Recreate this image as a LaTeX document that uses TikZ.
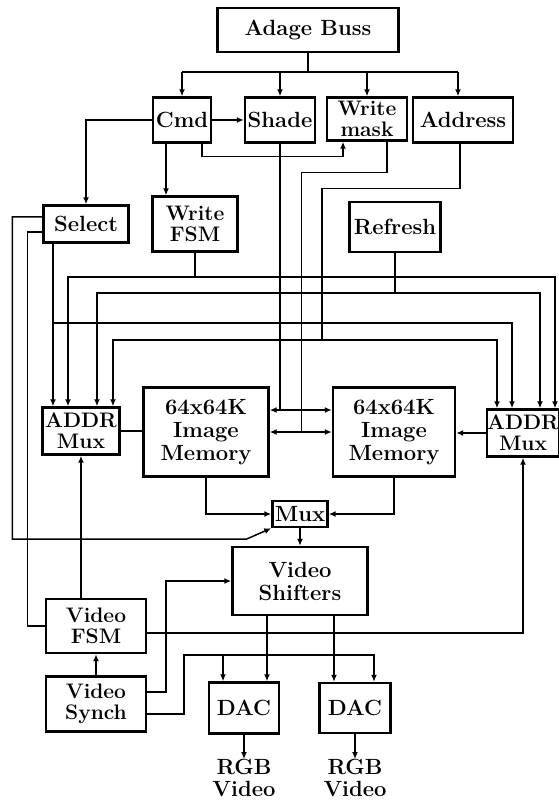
\documentclass[tikz,border=0pt]{standalone}
\usepackage{tikz}
\usetikzlibrary{arrows.meta,positioning,calc}
\tikzset{
  blk/.style={draw,line width=2.4pt,inner sep=0pt,align=center,font=\bfseries\fontsize{22}{23}\selectfont},
  tight/.style={font=\bfseries\fontsize{21}{21}\selectfont},
  lbl/.style={inner sep=0pt,align=center,font=\bfseries\fontsize{22}{22}\selectfont},
  wire/.style={draw,line width=1.5pt},
  flow/.style={wire,-{Latex[length=7pt,width=6pt]}},
  biflow/.style={wire,{Latex[length=7pt,width=6pt]}-{Latex[length=7pt,width=6pt]}}
}
\begin{document}
\begin{tikzpicture}[x=1pt,y=-1pt]
      \useasboundingbox (0,0) rectangle (558,802);
      \node[blk,minimum width=181pt,minimum height=44pt] (buss) at (308,30) {Adage Buss};
      \node[blk,minimum width=58pt,minimum height=45pt] (cmd) at (182,120) {Cmd};
      \node[blk,minimum width=70pt,minimum height=45pt] (shade) at (280,120) {Shade};
      \node[blk,tight,minimum width=80pt,minimum height=43pt] (wmask) at (367,119) {Write\\mask};
      \node[blk,minimum width=100pt,minimum height=45pt] (addr) at (463,120) {Address};
      \node[blk,minimum width=85pt,minimum height=37pt] (select) at (86,224) {Select};
      \node[blk,tight,minimum width=85pt,minimum height=55pt] (wfsm) at (195,224) {Write\\FSM};
      \node[blk,minimum width=91pt,minimum height=50pt] (refresh) at (395,227) {Refresh};
      \node[blk,tight,minimum width=77pt,minimum height=47pt] (lmux) at (81,431) {ADDR\\Mux};
      \node[blk,minimum width=125pt,minimum height=89pt] (lmem) at (206,432) {64x64K\\Image\\Memory};
      \node[blk,minimum width=122pt,minimum height=89pt] (rmem) at (394,432) {64x64K\\Image\\Memory};
      \node[blk,tight,minimum width=72pt,minimum height=47pt] (rmux) at (523,433) {ADDR\\Mux};
      \node[blk,minimum width=55pt,minimum height=26pt] (mux) at (300,514) {Mux};
      \node[blk,minimum width=135pt,minimum height=68pt] (vshift) at (300,581) {Video\\Shifters};
      \node[blk,tight,minimum width=100pt,minimum height=54pt] (vfsm) at (96,626) {Video\\FSM};
      \node[blk,tight,minimum width=100pt,minimum height=55pt] (vsynch) at (96,704) {Video\\Synch};
      \node[blk,minimum width=70pt,minimum height=51pt] (ldac) at (244,708) {DAC};
      \node[blk,minimum width=71pt,minimum height=50pt] (rdac) at (355,708) {DAC};
      \node[lbl] (lrgb) at (244,778) {RGB\\Video};
      \node[lbl] (rrgb) at (355,778) {RGB\\Video};
      \coordinate (busy) at (0,72);
      \coordinate (wfy) at (0,277);
      \coordinate (rfy) at (0,293);
      \coordinate (sly) at (0,323);
      \coordinate (syy) at (0,655);
      \coordinate (la1) at ([xshift=-28pt]lmux.north);
      \coordinate (la2) at ([xshift=-13pt]lmux.north);
      \coordinate (la3) at ([xshift=16pt]lmux.north);
      \coordinate (la4) at ([xshift=32pt]lmux.north);
      \coordinate (ra1) at ([xshift=-26pt]rmux.north);
      \coordinate (ra2) at ([xshift=-11pt]rmux.north);
      \coordinate (ra3) at ([xshift=17pt]rmux.north);
      \coordinate (ra4) at ([xshift=32pt]rmux.north);
      \coordinate (addin) at ([xshift=-5pt]addr.north);
      \coordinate (adout) at ([xshift=-3pt]addr.south);
      \coordinate (adj) at (322,340);
      \coordinate (cmdl) at ([xshift=-16pt]cmd.south);
      \coordinate (cmdr) at ([xshift=20pt]cmd.south);
      \coordinate (wmin) at ([xshift=-24pt]wmask.south);
      \coordinate (wmout) at ([xshift=20pt]wmask.south);
      \coordinate (mhi) at ([yshift=22pt]lmem.east);
      \coordinate (wmx) at ([xshift=32pt]lmem.east);
      \coordinate (sm) at ([xshift=-25pt,yshift=-11pt]mux.south west);
      \coordinate (ldin) at ([xshift=-21pt]ldac.north);
      \coordinate (ldin2) at ([xshift=23pt]ldac.north);
      \coordinate (rdin) at ([xshift=19pt]rdac.north);
      \coordinate (rdin2) at ([xshift=-21pt]rdac.north);
      \draw[wire] (buss.south) -- (buss.south |- busy);
      \draw[wire] (cmd.north |- busy) -- (addin |- busy);
      \draw[flow] (cmd.north |- busy) -- (cmd.north);
      \draw[flow] (shade.north |- busy) -- (shade.north);
      \draw[flow] (wmask.north |- busy) -- (wmask.north);
      \draw[flow] (addin |- busy) -- (addin);
      \draw[flow] (cmd) -- (shade);
      \draw[flow] (cmdr) -- ++(0,13) -| (wmin);
      \draw[flow] (cmd.west) -| (select.north);
      \draw[flow] (cmdl) -- (cmdl |- wfsm.north);
      \draw[flow] (wfsm.south) |- (la2 |- wfy) -- (la2);
      \draw[flow] (wfsm.south) |- (ra4 |- wfy) -- (ra4);
      \draw[flow] (refresh.south) |- (la3 |- rfy) -- (la3);
      \draw[flow] (refresh.south) |- (ra3 |- rfy) -- (ra3);
      \draw[flow] (select.south -| la1) -- (la1);
      \draw[flow] (la1 |- sly) -| (ra2);
      \draw[wire] (adout) -- ++(0,45) -| (adj);
      \draw[flow] (adj) -| (la4);
      \draw[flow] (adj) -| (ra1);
      \draw[biflow] (mhi) -- (mhi -| rmem.west);
      \draw[biflow] (lmem.east) -- (rmem.west);
      \draw[wire] (shade.south) -- (shade.south |- mhi);
      \draw[wire] (wmout) -- ++(0,31) -| (wmx);
      \draw[wire] (lmux.east) -- (lmux.east -| lmem.west);
      \draw[flow] (rmux.west) -- (rmux.west -| rmem.east);
      \draw[flow] (lmem.south) |- (mux.west);
      \draw[flow] (rmem.south) |- (mux.east);
      \draw[flow] (mux.south) -- (mux.south |- vshift.north);
      \draw[flow] ([yshift=7pt]select.west) -- ++(-30,0) |- (sm) -- (mux.south west);
      \draw[wire] ([yshift=-8pt]select.west) -- ++(-15,0) |- (vfsm.west);
      \draw[flow] (vfsm.north -| lmux.south) -- (lmux.south);
      \draw[flow] ([yshift=-7pt]vfsm.east) -| (rmux.south);
      \draw[flow] (vsynch) -- (vfsm);
      \draw[flow] ([yshift=12pt]vsynch.east) -- ++(19,0) |- (vshift.west);
      \draw[flow] ([yshift=-10pt]vsynch.east) -- ++(37,0) |- (ldin |- syy) -- (ldin);
      \draw[flow] (ldin |- syy) -| (rdin);
      \draw[flow] (ldin2 |- vshift.south) -- (ldin2);
      \draw[flow] (rdin2 |- vshift.south) -- (rdin2);
      \draw[flow] (ldac.south) -- (lrgb.north);
      \draw[flow] (rdac.south) -- (rrgb.north);
    \end{tikzpicture}
\end{document}
